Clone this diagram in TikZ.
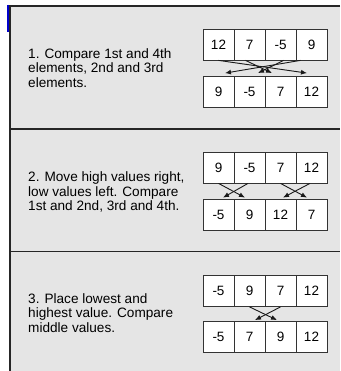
\documentclass[tikz,border=0pt]{standalone}
\usepackage{fontspec}
\setmainfont{Liberation Sans}
\usetikzlibrary{arrows.meta}
\tikzset{
  x=1pt, y=-1pt,
  cell/.style={draw=black!80, fill=white, line width=0.8pt, minimum width=31pt, minimum height=31pt, inner sep=0pt, font=\fontsize{13.5}{14}\selectfont},
  swap/.style={line width=0.9pt, black!90, -{Latex[length=6pt,width=5pt]}},
  caption/.style={anchor=west, align=left, inner sep=0pt, font=\fontsize{13.6}{14.4}\selectfont},
  rule/.style={line width=1.6pt, black!85}
}
\begin{document}
\begin{tikzpicture}
\useasboundingbox (0,0) rectangle (340,371);
\fill[white] (0,0) rectangle (340,371);
\fill[black!10] (10,6) rectangle (340,371);
% frame
\coordinate (tl) at (10,6);
\coordinate (tr) at (340,6);
\coordinate (bl) at (10,371);
\coordinate (s1l) at (10,129);
\coordinate (s1r) at (340,129);
\coordinate (s2l) at (10,251.5);
\coordinate (s2r) at (340,251.5);
\draw[rule] (tr) -- (tl) -- (bl);
\draw[rule] (s1l) -- (s1r);
\draw[rule] (s2l) -- (s2r);
\coordinate (bt) at (8,5);
\coordinate (bb) at (8,32);
\draw[blue!80!black, line width=1.2pt] (bt) -- (bb);

% panel 1
\node[caption] (c1) at (28,68) {1. Compare 1st and 4th\\elements, 2nd and 3rd\\elements.};
\node[cell] (a1) at (218.5,44.5) {12};
\node[cell] (a2) at (249.5,44.5) {7};
\node[cell] (a3) at (280.5,44.5) {-5};
\node[cell] (a4) at (311.5,44.5) {9};
\node[cell] (b1) at (218.5,91.5) {9};
\node[cell] (b2) at (249.5,91.5) {-5};
\node[cell] (b3) at (280.5,91.5) {7};
\node[cell] (b4) at (311.5,91.5) {12};
\draw[swap] (a1.south) -- ([xshift=-4.5pt,yshift=2.5pt]b4.north);
\draw[swap] ([xshift=-11pt]a4.south) -- ([xshift=6.5pt,yshift=2.5pt]b1.north);
\draw[swap] ([xshift=-4pt]a2.south) -- ([xshift=-8.5pt,yshift=2.5pt]b3.north);
\draw[swap] ([xshift=3pt]a3.south) -- ([xshift=8.5pt,yshift=2.5pt]b2.north);

% panel 2
\node[caption] (c2) at (28,192) {2. Move high values right,\\low values left. Compare\\1st and 2nd, 3rd and 4th.};
\node[cell] (d1) at (218.5,167.5) {9};
\node[cell] (d2) at (249.5,167.5) {-5};
\node[cell] (d3) at (280.5,167.5) {7};
\node[cell] (d4) at (311.5,167.5) {12};
\node[cell] (e1) at (218.5,214.5) {-5};
\node[cell] (e2) at (249.5,214.5) {9};
\node[cell] (e3) at (280.5,214.5) {12};
\node[cell] (e4) at (311.5,214.5) {7};
\draw[swap] (d1.south) -- ([xshift=-4.5pt,yshift=1pt]e2.north);
\draw[swap] ([xshift=-1.5pt]d2.south) -- ([xshift=4.5pt,yshift=1pt]e1.north);
\draw[swap] (d3.south) -- ([xshift=-4.5pt,yshift=1pt]e4.north);
\draw[swap] ([xshift=-1.5pt]d4.south) -- ([xshift=2.5pt,yshift=1pt]e3.north);

% panel 3
\node[caption] (c3) at (28,313) {3. Place lowest and\\highest value. Compare\\middle values.};
\node[cell] (f1) at (218.5,291) {-5};
\node[cell] (f2) at (249.5,291) {9};
\node[cell] (f3) at (280.5,291) {7};
\node[cell] (f4) at (311.5,291) {12};
\node[cell] (g1) at (218.5,336.5) {-5};
\node[cell] (g2) at (249.5,336.5) {7};
\node[cell] (g3) at (280.5,336.5) {9};
\node[cell] (g4) at (311.5,336.5) {12};
\draw[swap] (f2.south) -- ([xshift=-3.5pt,yshift=0.5pt]g3.north);
\draw[swap] (f3.south) -- ([xshift=5.5pt,yshift=0.5pt]g2.north);
\end{tikzpicture}
\end{document}
